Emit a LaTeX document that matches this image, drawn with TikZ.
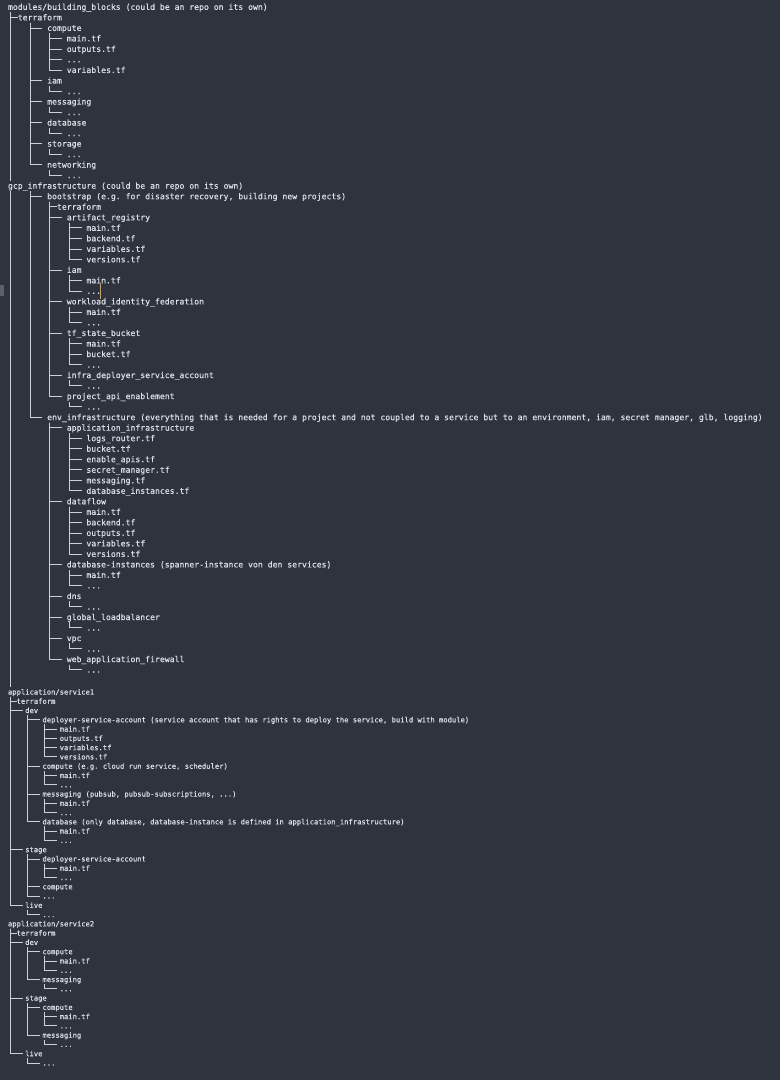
\documentclass[tikz,border=0pt]{standalone}
\usepackage{fontspec}
\newfontfamily\termfont[FakeBold=0.35]{DejaVu Sans Mono}
\definecolor{bg}{HTML}{2E333E}
\definecolor{fg}{HTML}{DCDFE4}
\definecolor{ln}{HTML}{CDD1D7}
\definecolor{cursorcol}{HTML}{E0A030}
\definecolor{scrollcol}{HTML}{5A606C}
\tikzset{
  ut/.style={anchor=west, inner sep=0pt, outer sep=0pt, text=fg,
    font=\termfont\fontsize{8.14}{10}\selectfont\frenchspacing,
    text height=6.1pt, text depth=0.4pt, minimum height=10.52pt},
  lt/.style={anchor=west, inner sep=0pt, outer sep=0pt, text=fg,
    font=\termfont\fontsize{7.16}{9}\selectfont\frenchspacing,
    text height=5.37pt, text depth=0.36pt, minimum height=9.275pt},
  tree/.style={draw=ln, line width=0.9pt},
}
\newcommand\mkU[3]{\node[ut] (u#1) at ({8+#2*4.9},{7+(#1-1)*10.52}) {#3};}
\newcommand\mkL[3]{\node[lt] (l#1) at ({8+#2*4.31},{692+(#1-66)*9.275}) {#3};}
\newcommand\brU[3]{\draw[tree] (U#1 |- u#2.south) |- ([xshift=-4.9pt]u#3.west);}
\newcommand\brUn[3]{\draw[tree] (U#1 |- u#2.south) |- (u#3.west);}
\newcommand\brL[3]{\draw[tree] (L#1 |- l#2.south) |- ([xshift=-2.6pt]l#3.west);}
\newcommand\brLn[3]{\draw[tree] (L#1 |- l#2.south) |- (l#3.west);}
\begin{document}
\begin{tikzpicture}[x=1pt,y=-1pt]
\fill[bg] (0,0) rectangle (780,1080);
\useasboundingbox (0,0) rectangle (780,1080);
\coordinate (U0) at (10.45,0);
\coordinate (U4) at (30.05,0);
\coordinate (U8) at (49.65,0);
\coordinate (U12) at (69.25,0);
\coordinate (L0) at (10.16,0);
\coordinate (L4) at (27.4,0);
\coordinate (L8) at (44.6,0);
% ---------- upper part ----------
\mkU{1}{0}{modules/building\_blocks (could be an repo on its own)}
\mkU{2}{2}{terraform}
\mkU{3}{8}{compute}
\mkU{4}{12}{main.tf}
\mkU{5}{12}{outputs.tf}
\mkU{6}{12}{...}
\mkU{7}{12}{variables.tf}
\mkU{8}{8}{iam}
\mkU{9}{12}{...}
\mkU{10}{8}{messaging}
\mkU{11}{12}{...}
\mkU{12}{8}{database}
\mkU{13}{12}{...}
\mkU{14}{8}{storage}
\mkU{15}{12}{...}
\mkU{16}{8}{networking}
\mkU{17}{12}{...}
\mkU{18}{0}{gcp\_infrastructure (could be an repo on its own)}
\mkU{19}{8}{bootstrap (e.g. for disaster recovery, building new projects)}
\mkU{20}{10}{terraform}
\mkU{21}{12}{artifact\_registry}
\mkU{22}{16}{main.tf}
\mkU{23}{16}{backend.tf}
\mkU{24}{16}{variables.tf}
\mkU{25}{16}{versions.tf}
\mkU{26}{12}{iam}
\mkU{27}{16}{main.tf}
\mkU{28}{16}{...}
\mkU{29}{12}{workload\_identity\_federation}
\mkU{30}{16}{main.tf}
\mkU{31}{16}{...}
\mkU{32}{12}{tf\_state\_bucket}
\mkU{33}{16}{main.tf}
\mkU{34}{16}{bucket.tf}
\mkU{35}{16}{...}
\mkU{36}{12}{infra\_deployer\_service\_account}
\mkU{37}{16}{...}
\mkU{38}{12}{project\_api\_enablement}
\mkU{39}{16}{...}
\mkU{40}{8}{env\_infrastructure (everything that is needed for a project and not coupled to a service but to an environment, iam, secret manager, glb, logging)}
\mkU{41}{12}{application\_infrastructure}
\mkU{42}{16}{logs\_router.tf}
\mkU{43}{16}{bucket.tf}
\mkU{44}{16}{enable\_apis.tf}
\mkU{45}{16}{secret\_manager.tf}
\mkU{46}{16}{messaging.tf}
\mkU{47}{16}{database\_instances.tf}
\mkU{48}{12}{dataflow}
\mkU{49}{16}{main.tf}
\mkU{50}{16}{backend.tf}
\mkU{51}{16}{outputs.tf}
\mkU{52}{16}{variables.tf}
\mkU{53}{16}{versions.tf}
\mkU{54}{12}{database-instances (spanner-instance von den services)}
\mkU{55}{16}{main.tf}
\mkU{56}{16}{...}
\mkU{57}{12}{dns}
\mkU{58}{16}{...}
\mkU{59}{12}{global\_loadbalancer}
\mkU{60}{16}{...}
\mkU{61}{12}{vpc}
\mkU{62}{16}{...}
\mkU{63}{12}{web\_application\_firewall}
\mkU{64}{16}{...}
% ---------- lower part ----------
\mkL{66}{0}{application/service1}
\mkL{67}{2}{terraform}
\mkL{68}{4}{dev}
\mkL{69}{8}{deployer-service-account (service account that has rights to deploy the service, build with module)}
\mkL{70}{12}{main.tf}
\mkL{71}{12}{outputs.tf}
\mkL{72}{12}{variables.tf}
\mkL{73}{12}{versions.tf}
\mkL{74}{8}{compute (e.g. cloud run service, scheduler)}
\mkL{75}{12}{main.tf}
\mkL{76}{12}{...}
\mkL{77}{8}{messaging (pubsub, pubsub-subscriptions, ...)}
\mkL{78}{12}{main.tf}
\mkL{79}{12}{...}
\mkL{80}{8}{database (only database, database-instance is defined in application\_infrastructure)}
\mkL{81}{12}{main.tf}
\mkL{82}{12}{...}
\mkL{83}{4}{stage}
\mkL{84}{8}{deployer-service-account}
\mkL{85}{12}{main.tf}
\mkL{86}{12}{...}
\mkL{87}{8}{compute}
\mkL{88}{8}{...}
\mkL{89}{4}{live}
\mkL{90}{8}{...}
\mkL{91}{0}{application/service2}
\mkL{92}{2}{terraform}
\mkL{93}{4}{dev}
\mkL{94}{8}{compute}
\mkL{95}{12}{main.tf}
\mkL{96}{12}{...}
\mkL{97}{8}{messaging}
\mkL{98}{12}{...}
\mkL{99}{4}{stage}
\mkL{100}{8}{compute}
\mkL{101}{12}{main.tf}
\mkL{102}{12}{...}
\mkL{103}{8}{messaging}
\mkL{104}{12}{...}
\mkL{105}{4}{live}
\mkL{106}{8}{...}
% ---------- connectors upper ----------
\brUn{0}{1}{2}
\draw[tree] (U0 |- u2.west) -- (U0 |- u17.south);
\brU{4}{2}{3}\brU{4}{2}{8}\brU{4}{2}{10}\brU{4}{2}{12}\brU{4}{2}{14}\brU{4}{2}{16}
\brU{8}{3}{4}\brU{8}{3}{5}\brU{8}{3}{6}\brU{8}{3}{7}
\brU{8}{8}{9}\brU{8}{10}{11}\brU{8}{12}{13}\brU{8}{14}{15}\brU{8}{16}{17}
\brU{4}{18}{19}\brU{4}{18}{40}
\draw[tree] (U0 |- u18.south) -- (U0 |- l66.north);
\brUn{8}{19}{20}
\brU{8}{19}{21}\brU{8}{19}{26}\brU{8}{19}{29}\brU{8}{19}{32}\brU{8}{19}{36}\brU{8}{19}{38}
\brU{12}{21}{22}\brU{12}{21}{23}\brU{12}{21}{24}\brU{12}{21}{25}
\brU{12}{26}{27}\brU{12}{26}{28}
\brU{12}{29}{30}\brU{12}{29}{31}
\brU{12}{32}{33}\brU{12}{32}{34}\brU{12}{32}{35}
\brU{12}{36}{37}
\brU{12}{38}{39}
\brU{8}{40}{41}\brU{8}{40}{48}\brU{8}{40}{54}\brU{8}{40}{57}\brU{8}{40}{59}\brU{8}{40}{61}\brU{8}{40}{63}
\brU{12}{41}{42}\brU{12}{41}{43}\brU{12}{41}{44}\brU{12}{41}{45}\brU{12}{41}{46}\brU{12}{41}{47}
\brU{12}{48}{49}\brU{12}{48}{50}\brU{12}{48}{51}\brU{12}{48}{52}\brU{12}{48}{53}
\brU{12}{54}{55}\brU{12}{54}{56}
\brU{12}{57}{58}\brU{12}{59}{60}\brU{12}{61}{62}\brU{12}{63}{64}
% ---------- connectors lower ----------
\brLn{0}{66}{67}
\brL{0}{66}{68}\brL{0}{66}{83}\brL{0}{66}{89}
\brL{4}{68}{69}\brL{4}{68}{74}\brL{4}{68}{77}\brL{4}{68}{80}
\brL{8}{69}{70}\brL{8}{69}{71}\brL{8}{69}{72}\brL{8}{69}{73}
\brL{8}{74}{75}\brL{8}{74}{76}
\brL{8}{77}{78}\brL{8}{77}{79}
\brL{8}{80}{81}\brL{8}{80}{82}
\brL{4}{83}{84}\brL{4}{83}{87}\brL{4}{83}{88}
\brL{8}{84}{85}\brL{8}{84}{86}
\brL{4}{89}{90}
\brLn{0}{91}{92}
\brL{0}{91}{93}\brL{0}{91}{99}\brL{0}{91}{105}
\brL{4}{93}{94}\brL{4}{93}{97}
\brL{8}{94}{95}\brL{8}{94}{96}
\brL{8}{97}{98}
\brL{4}{99}{100}\brL{4}{99}{103}
\brL{8}{100}{101}\brL{8}{100}{102}
\brL{8}{103}{104}
\brL{4}{105}{106}
% ---------- cursor and scroll marker ----------
\fill[cursorcol] (99.7,283) rectangle (101.2,299);
\fill[scrollcol] (0,285) rectangle (3.7,296);
\end{tikzpicture}
\end{document}
